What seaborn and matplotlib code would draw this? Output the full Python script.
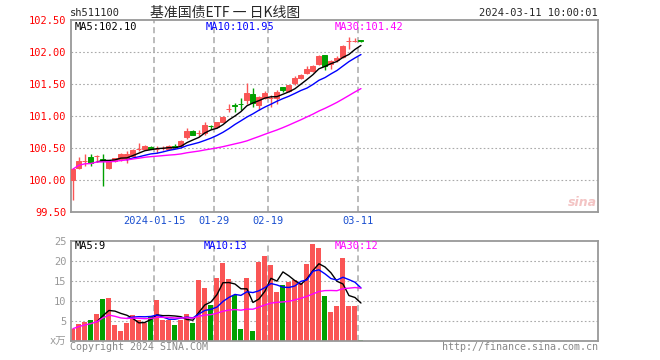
import numpy as np
import pandas as pd
import matplotlib
matplotlib.use("Agg")
import matplotlib.pyplot as plt
import seaborn as sns

# ----------------------------
# Data
# ----------------------------

opens = [100.00, 100.18, 100.30, 100.36, 100.38, 100.33, 100.19, 100.29, 100.33, 100.33,
         100.38, 100.48, 100.49, 100.52, 100.48, 100.50, 100.49, 100.53, 100.53, 100.67,
         100.77, 100.73, 100.73, 100.85, 100.83, 100.91, 101.11, 101.17, 101.19, 101.25,
         101.34, 101.17, 101.28, 101.28, 101.28, 101.45, 101.39, 101.52, 101.60, 101.67,
         101.70, 101.81, 101.95, 101.81, 101.87, 101.92, 102.17, 102.17, 102.18]
highs = [100.18, 100.36, 100.40, 100.40, 100.39, 100.41, 100.30, 100.35, 100.42, 100.45,
         100.48, 100.58, 100.54, 100.53, 100.53, 100.53, 100.55, 100.57, 100.62, 100.81,
         100.78, 100.78, 100.90, 100.86, 100.91, 101.00, 101.18, 101.20, 101.28, 101.52,
         101.44, 101.31, 101.39, 101.33, 101.40, 101.46, 101.49, 101.62, 101.65, 101.78,
         101.80, 101.95, 101.96, 101.87, 101.93, 102.11, 102.23, 102.22, 102.19]
lows = [99.69, 100.17, 100.22, 100.22, 100.29, 99.91, 100.17, 100.28, 100.30, 100.27,
        100.36, 100.45, 100.48, 100.48, 100.42, 100.47, 100.47, 100.50, 100.51, 100.64,
        100.70, 100.68, 100.71, 100.80, 100.82, 100.90, 101.06, 101.07, 101.10, 101.18,
        101.14, 101.10, 101.26, 101.14, 101.18, 101.38, 101.37, 101.49, 101.58, 101.65,
        101.68, 101.80, 101.72, 101.73, 101.85, 101.90, 102.04, 102.16, 102.16]
closes = [100.17, 100.29, 100.30, 100.27, 100.38, 100.29, 100.29, 100.34, 100.41, 100.40,
          100.47, 100.48, 100.53, 100.49, 100.48, 100.50, 100.53, 100.51, 100.61, 100.77,
          100.71, 100.73, 100.86, 100.84, 100.90, 100.99, 101.11, 101.16, 101.18, 101.36,
          101.21, 101.29, 101.36, 101.28, 101.37, 101.40, 101.48, 101.60, 101.64, 101.73,
          101.78, 101.94, 101.78, 101.86, 101.90, 102.10, 102.17, 102.17, 102.17]
volumes = [3.0, 4.1, 4.7, 5.3, 6.7, 10.4, 10.7, 3.9, 2.4, 4.4,
           6.4, 5.2, 4.4, 6.2, 10.2, 5.3, 5.3, 3.9, 5.3, 6.7,
           4.4, 15.2, 13.2, 8.9, 15.8, 19.4, 15.4, 11.4, 2.9, 15.7,
           2.4, 19.7, 21.2, 19.0, 12.2, 13.9, 14.7, 15.2, 14.4, 19.2,
           24.2, 23.2, 11.2, 7.1, 8.6, 20.8, 8.75, 8.75, 0.2]

tick_idx = [14, 24, 33, 48]
tick_labels = ["2024-01-15", "01-29", "02-19", "03-11"]

price_ma_labels = ["MA5:102.10", "MA10:101.95", "MA30:101.42"]
vol_ma_labels = ["MA5:9", "MA10:13", "MA30:12"]

# ----------------------------
# Prep
# ----------------------------

RED = "#fa5555"
GREEN = "#00a000"
GRID = "#aaaaaa"
SPINE = "#999999"
MA_COLORS = ["black", "#0000ff", "#ff00ff"]

df = pd.DataFrame({"open": opens, "high": highs, "low": lows,
                   "close": closes, "vol": volumes})
df["idx"] = np.arange(len(df))
df["dir"] = np.where(df["close"] < df["open"], "down", "up")
colors = [GREEN if d == "down" else RED for d in df["dir"]]

df["ma5"] = df["close"].rolling(5).mean()
df["ma10"] = df["close"].rolling(10).mean()
df["ma30"] = df["close"].rolling(30, min_periods=1).mean()
df["vma5"] = df["vol"].rolling(5).mean()
df["vma10"] = df["vol"].rolling(10).mean()
df["vma30"] = df["vol"].rolling(30, min_periods=1).mean()

sns.set_theme(style="white")
plt.rcParams["font.family"] = ["DejaVu Sans Mono", "Noto Sans CJK SC"]

W, H = 660, 360


def px(x, y):
    return x / W, 1 - y / H


fig = plt.figure(figsize=(6.6, 3.6), dpi=100)
ax = fig.add_axes([70.5 / W, 1 - 212 / H, 527.5 / W, 192 / H])
axv = fig.add_axes([70.5 / W, 1 - 340.7 / H, 527.5 / W, 100 / H])

# ----------------------------
# Price panel
# ----------------------------

for v in np.arange(100.0, 102.01, 0.5):
    ax.axhline(v, color=GRID, ls=(0, (1.5, 2)), lw=0.8, zorder=0)
for i in tick_idx:
    ax.axvline(i - 0.45, color=GRID, ls=(0, (4, 2.5)), lw=1.1, zorder=0)

ax.vlines(df["idx"], df["low"], df["high"], colors=colors, lw=1, zorder=2)
ax.bar(df["idx"], (df["close"] - df["open"]).abs(),
       bottom=np.minimum(df["open"], df["close"]), width=0.82,
       color=colors, edgecolor=colors, linewidth=0.7, zorder=3)

for col, c in zip(["ma5", "ma10", "ma30"], MA_COLORS):
    d = df.dropna(subset=[col])
    sns.lineplot(data=d, x="idx", y=col, color=c, lw=1, ax=ax, zorder=4)

ax.set_xlim(-0.4, 87.5)
ax.set_ylim(99.5, 102.5)
ax.set_yticks(np.arange(99.5, 102.51, 0.5))
ax.set_yticklabels([f"{v:.2f}" for v in np.arange(99.5, 102.51, 0.5)],
                   color="#ff0000", fontsize=7.5)
ax.set_xticks([i - 0.45 for i in tick_idx])
ax.set_xticklabels(tick_labels, color="#1a4fd0", fontsize=7.5)
ax.tick_params(length=0, pad=3)
ax.set_xlabel("")
ax.set_ylabel("")

# ----------------------------
# Volume panel
# ----------------------------

for v in [5, 10, 15, 20]:
    axv.axhline(v, color=GRID, ls=(0, (1.5, 2)), lw=0.8, zorder=0)
for i in tick_idx:
    axv.axvline(i - 0.45, color=GRID, ls=(0, (4, 2.5)), lw=1.1, zorder=0)

sns.barplot(data=df, x="idx", y="vol", hue="dir", native_scale=True,
            palette={"up": RED, "down": GREEN}, width=0.82, saturation=1,
            dodge=False, errorbar=None, linewidth=0, legend=False, ax=axv)

for col, c in zip(["vma5", "vma10", "vma30"], MA_COLORS):
    d = df.dropna(subset=[col])
    sns.lineplot(data=d, x="idx", y=col, color=c, lw=1, ax=axv, zorder=4)

axv.set_xlim(-0.4, 87.5)
axv.set_ylim(0, 25)
axv.set_xticks([])
axv.set_yticks([0, 5, 10, 15, 20, 25])
axv.set_yticklabels(["x万", "5", "10", "15", "20", "25"], color="#999999", fontsize=7.5)
axv.tick_params(length=0, pad=3)
axv.set_xlabel("")
axv.set_ylabel("")

for a in (ax, axv):
    for sp in a.spines.values():
        sp.set_color(SPINE)
        sp.set_linewidth(1.3)

# ----------------------------
# Texts
# ----------------------------

fs = 7.5
for lab, c, x in zip(price_ma_labels, MA_COLORS, [75, 206, 335]):
    fig.text(*px(x, 27), lab, color=c, fontsize=fs, va="center")
for lab, c, x in zip(vol_ma_labels, MA_COLORS, [75, 204, 335]):
    fig.text(*px(x, 246), lab, color=c, fontsize=fs, va="center")

fig.text(*px(70, 13), "sh511100", fontsize=fs, va="center")
fig.text(*px(225, 13), "基准国债ETF 一 日K线图", fontsize=10, va="center",
         ha="center", family=["Noto Sans CJK SC", "DejaVu Sans"])
fig.text(*px(598, 13), "2024-03-11 10:00:01", fontsize=fs, va="center", ha="right")
fig.text(*px(70, 347), "Copyright 2024 SINA.COM", fontsize=7.2, color="#888888", va="center")
fig.text(*px(598, 347), "http://finance.sina.com.cn", fontsize=7.2, color="#888888",
         va="center", ha="right")
fig.text(*px(597, 203), "sina", fontsize=9, color="#f3c4c4", style="italic",
         weight="bold", family="DejaVu Sans", va="center", ha="right")

fig.savefig("out.png", dpi=100, facecolor="white")
